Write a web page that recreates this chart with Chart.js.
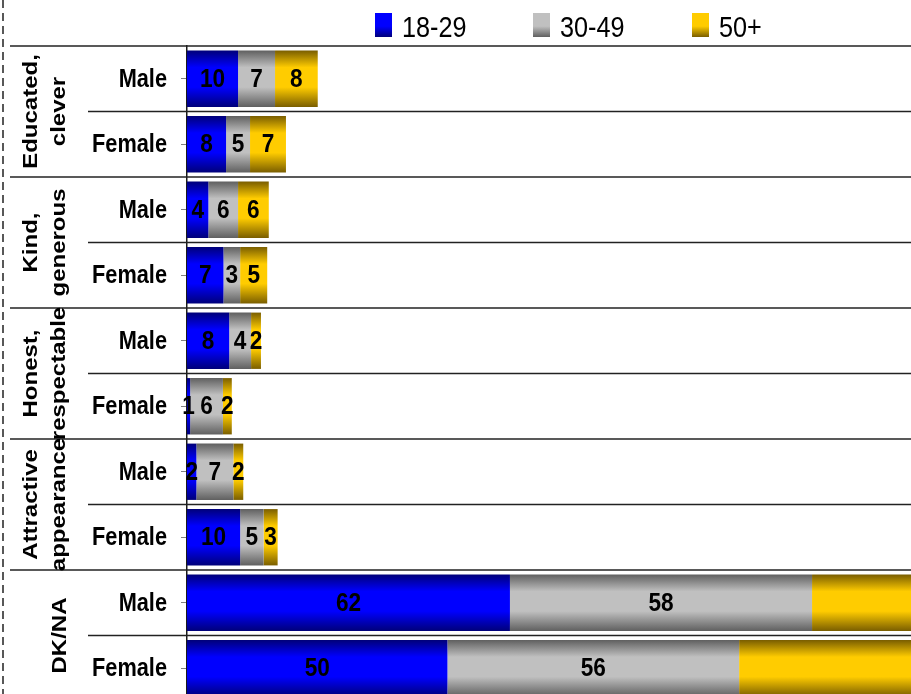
<!DOCTYPE html>
<html>
<head>
<meta charset="utf-8">
<script src="https://cdn.jsdelivr.net/npm/chart.js@4.4.0/dist/chart.umd.min.js"></script>
<style>
html, body { margin: 0; padding: 0; background: #fff; overflow: hidden; }
#wrap { position: relative; width: 911px; height: 701px; }
</style>
</head>
<body>
<div id="wrap"><canvas id="graficoBarras"></canvas></div>
<script>
// rótulos das barras (eixo y)
const categories = ['Male', 'Female', 'Male', 'Female', 'Male', 'Female', 'Male', 'Female', 'Male', 'Female'];
// grupos (texto girado à esquerda), cada um cobre duas barras
const groupLabels = [['Educated,', 'clever'], ['Kind,', 'generous'], ['Honest,', 'respectable'], ['Attractive', 'appearance'], ['DK/NA']];
const seriesNames = ['18-29', '30-49', '50+'];
// valores (os rótulos mostram o valor arredondado)
const age18to29 = [9.8, 7.5, 4.1, 7.0, 8.1, 0.6, 1.8, 10.2, 62, 50];
const age30to49 = [7.1, 4.6, 5.7, 3.2, 4.2, 6.3, 7.1, 4.5, 58, 56];
const age50plus = [8.2, 6.9, 5.9, 5.2, 1.9, 1.7, 1.9, 2.7, 66, 74];
const xMax = 139;

const FONTE = "'Liberation Sans', Arial, sans-serif";
const APERTO = 0.87; // texto do original é estreito
const BAR_PCT = 0.86;
const cores = [
    ['#00007a', '#0000ff'],
    ['#606060', '#c0c0c0'],
    ['#7a5e00', '#ffcc00']
];

function gradiente(ctx, i) {
    const chart = ctx.chart;
    const y = chart.scales.y;
    if (!chart.chartArea || !y || ctx.dataIndex === undefined) return cores[i][1];
    const c = y.getPixelForValue(ctx.dataIndex);
    const row = y.getPixelForValue(1) - y.getPixelForValue(0);
    const half = row * BAR_PCT / 2;
    const g = chart.ctx.createLinearGradient(0, c - half, 0, c + half);
    g.addColorStop(0, cores[i][0]);
    g.addColorStop(0.3, cores[i][1]);
    g.addColorStop(0.65, cores[i][1]);
    g.addColorStop(1, cores[i][0]);
    return g;
}

function texto(ctx, txt, x, y, align) {
    ctx.save();
    ctx.translate(x, y);
    ctx.scale(APERTO, 1);
    ctx.textAlign = align;
    ctx.fillText(txt, 0, 0);
    ctx.restore();
}

// linhas separadoras, linha tracejada, rótulos e legenda
const decoracao = {
    id: 'decoracao',
    beforeDatasetsDraw(chart) {
        const ctx = chart.ctx;
        const y = chart.scales.y;
        const row = y.getPixelForValue(1) - y.getPixelForValue(0);
        ctx.save();
        ctx.strokeStyle = '#222';
        ctx.lineWidth = 1.5;
        for (let i = 0; i < categories.length; i++) {
            const yy = y.getPixelForValue(i) - row / 2;
            ctx.beginPath();
            ctx.moveTo(i % 2 === 0 ? 10 : 88, yy);
            ctx.lineTo(chart.width, yy);
            ctx.stroke();
        }
        // tracejado na borda esquerda
        ctx.setLineDash([8, 5]);
        ctx.beginPath();
        ctx.moveTo(3, 0);
        ctx.lineTo(3, chart.height);
        ctx.stroke();
        ctx.setLineDash([]);
        ctx.fillStyle = '#000';
        ctx.textBaseline = 'middle';
        // Male / Female
        ctx.font = 'bold 25px ' + FONTE;
        y.getLabels().forEach((lab, i) => {
            texto(ctx, lab, 167, y.getPixelForValue(i) + 1, 'right');
        });
        // textos dos grupos, girados
        ctx.font = 'bold 24px ' + FONTE;
        ctx.textAlign = 'center';
        groupLabels.forEach((linhas, g) => {
            const cy = (y.getPixelForValue(g * 2) + y.getPixelForValue(g * 2 + 1)) / 2;
            const xs = linhas.length === 2 ? [31, 59] : [60];
            linhas.forEach((txt, k) => {
                ctx.save();
                ctx.translate(xs[k], cy);
                ctx.scale(APERTO, 1);
                ctx.rotate(-Math.PI / 2);
                ctx.fillText(txt, 0, 0);
                ctx.restore();
            });
        });
        ctx.restore();
    },
    afterDatasetsDraw(chart) {
        const ctx = chart.ctx;
        const area = chart.chartArea;
        ctx.save();
        ctx.fillStyle = '#000';
        ctx.font = 'bold 26px ' + FONTE;
        ctx.textBaseline = 'middle';
        chart.data.datasets.forEach((ds, d) => {
            chart.getDatasetMeta(d).data.forEach((bar, i) => {
                if (bar.x > area.right + 0.5) return; // segmento cortado na borda
                texto(ctx, String(Math.round(ds.data[i])), (bar.x + bar.base) / 2, bar.y + 1, 'center');
            });
        });
        ctx.restore();
    },
    afterDraw(chart) {
        // legenda
        const ctx = chart.ctx;
        const pos = [375, 533, 692];
        ctx.save();
        ctx.font = '29px ' + FONTE;
        ctx.textBaseline = 'alphabetic';
        seriesNames.forEach((nome, i) => {
            const g = ctx.createLinearGradient(0, 13, 0, 37);
            g.addColorStop(0, cores[i][1]);
            g.addColorStop(0.55, cores[i][1]);
            g.addColorStop(1, cores[i][0]);
            ctx.fillStyle = g;
            ctx.fillRect(pos[i], 13, 17, 24);
            ctx.fillStyle = '#000';
            texto(ctx, nome, pos[i] + 27, 37, 'left');
        });
        ctx.restore();
    }
};

function plotarGrafico() {
    const ctx = document.getElementById('graficoBarras').getContext('2d');
    new Chart(ctx, {
        type: 'bar',
        data: {
            labels: categories,
            datasets: [
                { label: seriesNames[0], data: age18to29, backgroundColor: (c) => gradiente(c, 0) },
                { label: seriesNames[1], data: age30to49, backgroundColor: (c) => gradiente(c, 1) },
                { label: seriesNames[2], data: age50plus, backgroundColor: (c) => gradiente(c, 2) }
            ]
        },
        options: {
            indexAxis: 'y',
            responsive: true,
            maintainAspectRatio: false,
            animation: false,
            categoryPercentage: 1,
            barPercentage: BAR_PCT,
            layout: { padding: { top: 46, left: 0, right: 0, bottom: 0 } },
            scales: {
                x: { stacked: true, display: false, min: 0, max: xMax },
                y: {
                    stacked: true,
                    afterFit: (s) => { s.width = 187; },
                    border: { color: '#1a1a1a', width: 1.5 },
                    grid: { drawOnChartArea: false, offset: false, tickLength: 6, color: '#808080' },
                    ticks: { display: false }
                }
            },
            plugins: {
                legend: { display: false },
                tooltip: { enabled: false }
            }
        },
        plugins: [decoracao]
    });
}
window.onload = function () {
    plotarGrafico();
};
</script>
</body>
</html>
